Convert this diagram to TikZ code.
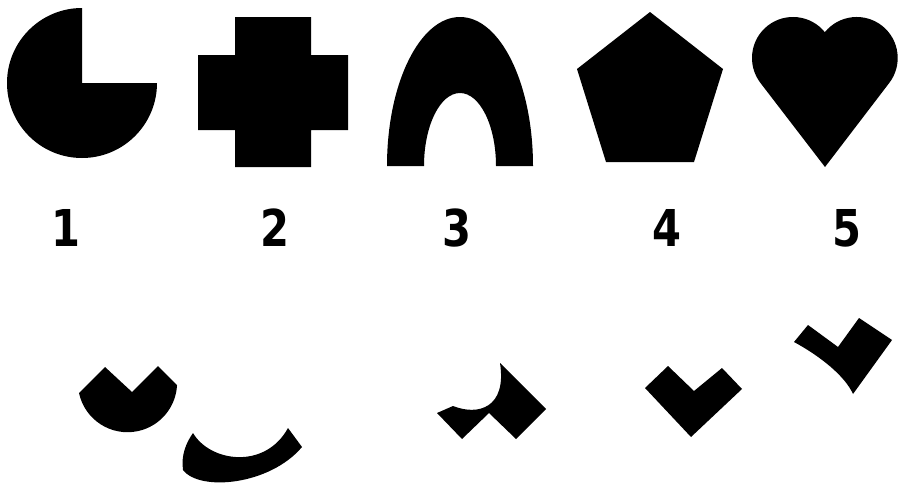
\documentclass[tikz,border=0pt]{standalone}
\usepackage{fontspec}
\setmainfont{DejaVu Sans}
\usetikzlibrary{positioning}

\begin{document}
\begin{tikzpicture}[
    x=0.02cm,y=0.02cm,
    piece/.style={fill=black,draw=none},
    digit/.style={font=\fontsize{28.9}{30}\selectfont\bfseries,inner sep=0pt},
]
\useasboundingbox (0,0) rectangle (906,488);

% ---- Shape 1: circle with a quarter cut out ------------------------------
\fill[piece] (82,405) -- (82,480) arc[start angle=90,end angle=360,radius=75] -- cycle;

% ---- Shape 2: cross -------------------------------------------------------
\fill[piece] (235,471) -- (311,471) -- (311,433) -- (348,433) -- (348,358)
    -- (311,358) -- (311,321) -- (235,321) -- (235,358) -- (198,358)
    -- (198,433) -- (235,433) -- cycle;

% ---- Shape 3: arch --------------------------------------------------------
\fill[piece] (387,322) arc[start angle=180,end angle=0,x radius=73,y radius=149]
    -- (496,322) arc[start angle=0,end angle=180,x radius=36,y radius=73] -- cycle;

% ---- Shape 4: pentagon ----------------------------------------------------
\fill[piece] (650,476) -- (577,419) -- (606,326) -- (694,326) -- (723,419) -- cycle;

% ---- Shape 5: heart -------------------------------------------------------
\fill[piece] (825,321) -- (760.5,405) arc[start angle=217.6,end angle=39,radius=41]
    arc[start angle=141,end angle=-37.6,radius=41] -- cycle;

% ---- Labels ---------------------------------------------------------------
\foreach \x/\n in {66/1,275/2,457/3,667/4,847/5}
    \node[digit] (lab\n) at (\x,260) {\scalebox{0.82}[1]{\n}};

% ---- Fragments ------------------------------------------------------------
\fill[piece] (177,103) -- (158,122) -- (132,96) -- (105,121) -- (79,95)
    arc[start angle=192.1,end angle=357.2,radius=49.6] -- cycle;
\fill[piece] (193,55) .. controls (210,26) and (265,18) .. (288,60) -- (302,41)
    .. controls (270,3) and (200,-4) .. (183,18)
    .. controls (181,33) and (186,45) .. (193,55) -- cycle;
\fill[piece] (437,75) -- (453,82) .. controls (478,72) and (507,80) .. (500,125)
    -- (546,79) -- (516,49) -- (489,75) -- (462,49) -- cycle;
\fill[piece] (645,100) -- (668,122) -- (694,97) -- (722,120) -- (742,99) -- (691,51) -- cycle;
\fill[piece] (794,146) -- (808,163) -- (838,141) -- (859,170) -- (892,148) -- (853,94)
    .. controls (845,112) and (820,132) .. (794,146) -- cycle;

\end{tikzpicture}
\end{document}
